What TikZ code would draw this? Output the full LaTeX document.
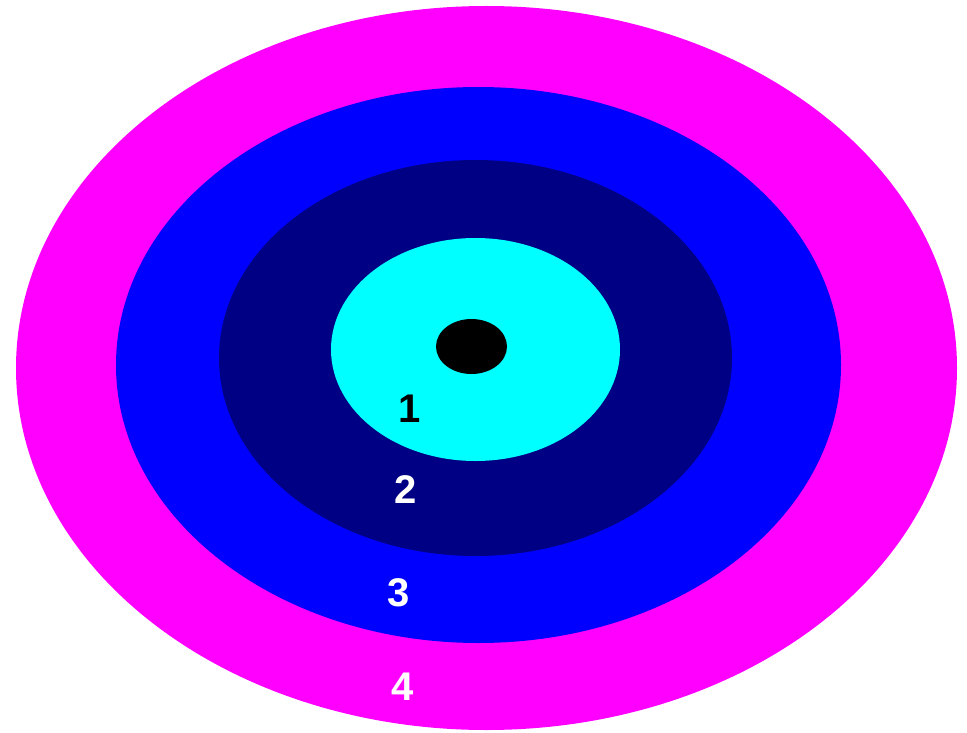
\documentclass[tikz,border=0pt]{standalone}
\usepackage{fontspec}
\setmainfont{Liberation Sans}
\definecolor{ringfour}{RGB}{255,0,255}
\definecolor{ringthree}{RGB}{0,0,255}
\definecolor{ringtwo}{RGB}{0,0,132}
\definecolor{ringone}{RGB}{0,255,255}
\tikzset{
  ring/.style={draw=none},
  lbl/.style={inner sep=0pt, anchor=center, font=\fontsize{40}{40}\selectfont\bfseries}
}
\begin{document}
\begin{tikzpicture}[x=1pt,y=-1pt]
\useasboundingbox (0,0) rectangle (967,733);
\fill[white] (0,0) rectangle (967,733);
\fill[ring, ringfour] (486.5,368) ellipse [x radius=470.5, y radius=362];
\fill[ring, ringthree] (478.5,365) ellipse [x radius=362.5, y radius=278];
\fill[ring, ringtwo] (475.5,358) ellipse [x radius=256.5, y radius=198];
\fill[ring, ringone] (475.5,349.5) ellipse [x radius=144.5, y radius=111.5];
\fill[ring, black] (471.5,346.5) ellipse [x radius=35.5, y radius=27.5];
\node[lbl, text=black] (l1) at (410,408.5) {1};
\node[lbl, text=white] (l2) at (406,489.5) {2};
\node[lbl, text=white] (l3) at (398.5,593) {3};
\node[lbl, text=white] (l4) at (402.5,686.5) {4};
\end{tikzpicture}
\end{document}
